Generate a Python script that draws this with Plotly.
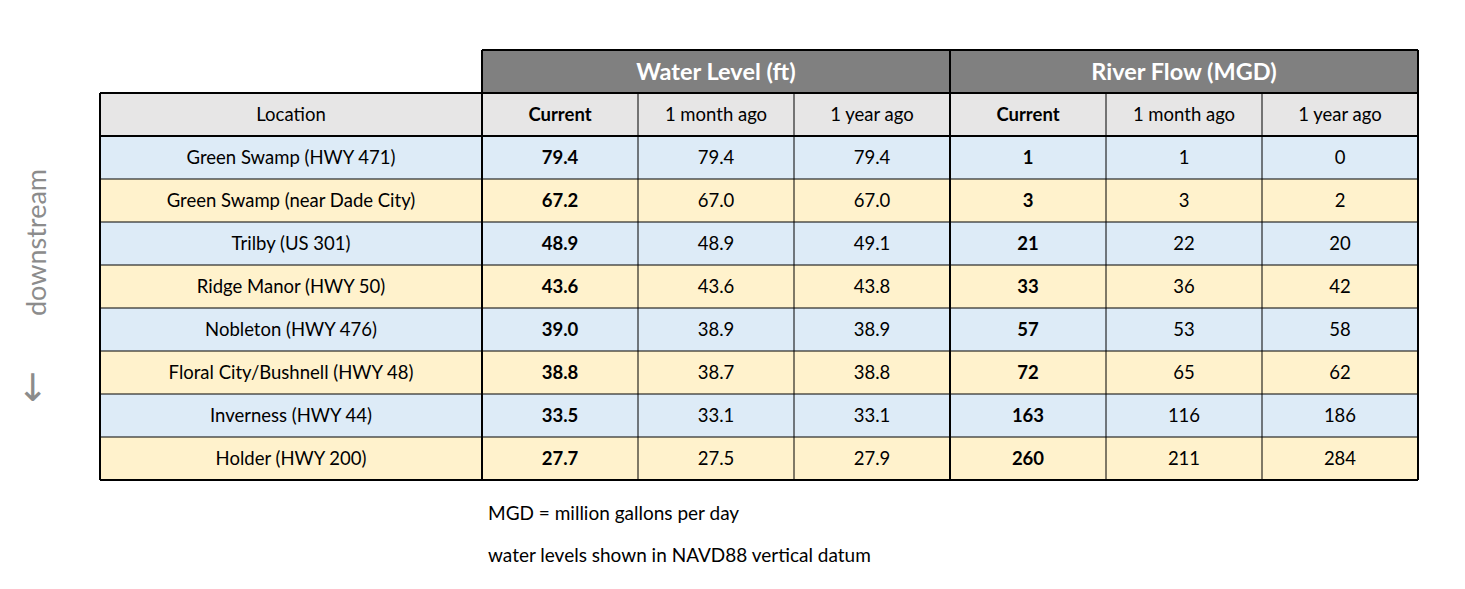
import plotly.graph_objects as go

# ---- data ----
locations = [
    "Green Swamp (HWY 471)",
    "Green Swamp (near Dade City)",
    "Trilby (US 301)",
    "Ridge Manor (HWY 50)",
    "Nobleton (HWY 476)",
    "Floral City/Bushnell (HWY 48)",
    "Inverness (HWY 44)",
    "Holder (HWY 200)",
]
wl_current = [79.4, 67.2, 48.9, 43.6, 39.0, 38.8, 33.5, 27.7]
wl_month = [79.4, 67.0, 48.9, 43.6, 38.9, 38.7, 33.1, 27.5]
wl_year = [79.4, 67.0, 49.1, 43.8, 38.9, 38.8, 33.1, 27.9]
rf_current = [1, 3, 21, 33, 57, 72, 163, 260]
rf_month = [1, 3, 22, 36, 53, 65, 116, 211]
rf_year = [0, 2, 20, 42, 58, 62, 186, 284]
group_headers = ["Water Level (ft)", "River Flow (MGD)"]
col_headers = ["Location", "<b>Current</b>", "1 month ago", "1 year ago",
               "<b>Current</b>", "1 month ago", "1 year ago"]
notes = ["MGD = million gallons per day", "water levels shown in NAVD88 vertical datum"]

# ---- layout constants (pixels) ----
W, H = 1465, 589
OFF = 8  # page body margin
x0 = 100
colw = [382, 156, 156, 156, 156, 156, 156]
top_group = 50
top_hdr = 93
row_h = 43
n = len(locations)

FONT = "Lato, Open Sans, sans-serif"
blue, yellow, hdr_gray, grp_gray = "#ddebf7", "#fff2cc", "#e7e6e6", "#808080"

xb = [x0]
for w in colw:
    xb.append(xb[-1] + w)
yb = [top_hdr + row_h * i for i in range(n + 2)]
x1, bottom = xb[-1], yb[-1]

# cell text and fill codes
cols = [
    locations,
    [f"<b>{v:.1f}</b>" for v in wl_current],
    [f"{v:.1f}" for v in wl_month],
    [f"{v:.1f}" for v in wl_year],
    [f"<b>{v}</b>" for v in rf_current],
    [str(v) for v in rf_month],
    [str(v) for v in rf_year],
]
text = [col_headers] + [[c[i] for c in cols] for i in range(n)]
z = [[0] * 7] + [[1 + (i % 2)] * 7 for i in range(n)]

fig = go.Figure()
fig.add_trace(go.Heatmap(
    x=xb, y=yb, z=z, text=text, texttemplate="%{text}",
    zmin=0, zmax=2, showscale=False, hoverinfo="skip",
    colorscale=[[0, hdr_gray], [0.25, hdr_gray], [0.25, blue], [0.75, blue],
                [0.75, yellow], [1, yellow]],
    textfont=dict(family=FONT, size=18.5, color="black"),
))
grp_edges = [xb[1], xb[4], xb[7]]
fig.add_trace(go.Heatmap(
    x=grp_edges, y=[top_group, top_hdr], z=[[0, 0]],
    text=[[f"<b>{g}</b>" for g in group_headers]], texttemplate="%{text}",
    showscale=False, hoverinfo="skip",
    colorscale=[[0, grp_gray], [1, grp_gray]],
    textfont=dict(family=FONT, size=23.5, color="white"),
))

shapes = []
def line(xa, ya, xc, yc, w):
    shapes.append(dict(type="line", xref="x", yref="y", x0=xa, y0=ya, x1=xc, y1=yc,
                       line=dict(color="black", width=w)))

# thin grid
for yv in yb[2:-1]:
    line(x0, yv, x1, yv, 1)
for xv in xb[1:-1]:
    if xv not in grp_edges:
        line(xv, top_hdr, xv, bottom, 1)
# thick borders
line(x0, top_hdr, x1, top_hdr, 2)
line(x0, yb[1], x1, yb[1], 2)
line(x0, bottom, x1, bottom, 2)
line(x0, top_hdr, x0, bottom, 2)
line(grp_edges[0], top_group, grp_edges[0], bottom, 2)
line(grp_edges[1], top_group, grp_edges[1], bottom, 2)
line(x1, top_group, x1, bottom, 2)
line(grp_edges[0], top_group, x1, top_group, 2)

annotations = []
annotations.append(dict(x=35, y=243, text="downstream", textangle=-90, showarrow=False,
                        xanchor="center", yanchor="middle",
                        font=dict(family=FONT, size=27, color="#8c8c8c")))
annotations.append(dict(x=33, y=388, text="↓", showarrow=False,
                        xanchor="center", yanchor="middle",
                        font=dict(family="DejaVu Sans", size=38, color="#8c8c8c")))
for i, t in enumerate(notes):
    annotations.append(dict(x=486, y=512 + 42 * i, text=t, showarrow=False,
                            xanchor="left", yanchor="middle",
                            font=dict(family=FONT, size=19, color="black")))

fig.update_layout(
    width=W, height=H, margin=dict(l=0, r=0, t=0, b=0),
    paper_bgcolor="white", plot_bgcolor="white",
    xaxis=dict(range=[OFF, W + OFF], visible=False, fixedrange=True),
    yaxis=dict(range=[H + OFF, OFF], visible=False, fixedrange=True),
    shapes=shapes, annotations=annotations,
)
fig.write_html("out.html")
